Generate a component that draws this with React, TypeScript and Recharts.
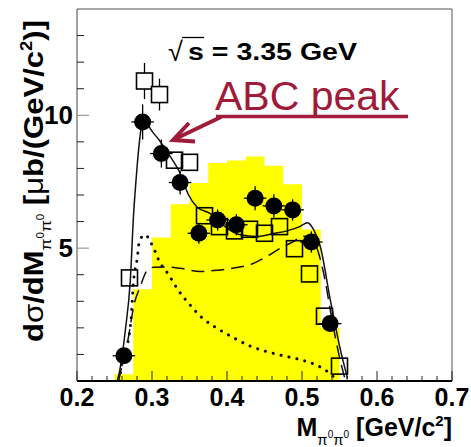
import React from 'react';
import {
  ComposedChart,
  Area,
  Line,
  Scatter,
  XAxis,
  YAxis,
  ErrorBar,
  ReferenceLine
} from 'recharts';

// histogram (yellow), bin low edges and contents
const histEdges = [0.25, 0.275, 0.3, 0.325, 0.35, 0.375, 0.4, 0.425, 0.45, 0.475, 0.5, 0.525, 0.55];
const histHeights = [0.25, 3.45, 5.4, 6.65, 7.45, 8.2, 8.3, 8.45, 8.1, 7.4, 5.7, 2.0, 0];

// filled circles
const dotX = [0.2625, 0.2875, 0.3125, 0.3375, 0.3625, 0.3875, 0.4125, 0.4375, 0.4625, 0.4875, 0.5125, 0.5375];
const dotY = [0.95, 9.75, 8.56, 7.47, 5.56, 6.06, 5.88, 6.88, 6.59, 6.44, 5.23, 2.16];
const dotErr = [0.3, 0.66, 0.53, 0.45, 0.39, 0.4, 0.4, 0.45, 0.44, 0.4, 0.4, 0.3];
const dotBinHalf = 0.015;

// open squares
const sqX = [0.27, 0.29, 0.31, 0.33, 0.35, 0.37, 0.39, 0.41, 0.43, 0.45, 0.47, 0.49, 0.51, 0.53, 0.55];
const sqY = [3.88, 11.29, 10.78, 8.31, 8.23, 6.22, 5.81, 5.65, 5.71, 5.56, 5.81, 4.98, 4.03, 2.44, 0.56];
const sqErr = [0, 0.68, 0.6, 0, 0, 0, 0, 0, 0, 0, 0, 0, 0, 0, 0];

// model curves
const totalX = [0.2535, 0.2555, 0.2644, 0.2711, 0.2755, 0.2787, 0.2821, 0.2871, 0.29, 0.2977, 0.31, 0.322, 0.3377, 0.3488, 0.36, 0.3777, 0.39, 0.4, 0.418, 0.44, 0.462, 0.48, 0.4977, 0.5075, 0.5155, 0.5244, 0.5377, 0.5511, 0.5608];
const totalY = [0, 0.2, 1.9, 3.8, 6.3, 7.55, 8.7, 9.75, 9.9, 9.5, 9.05, 8.55, 7.8, 7.0, 6.55, 6.3, 6.0, 5.75, 5.5, 5.44, 5.55, 5.65, 5.82, 5.96, 5.7, 5.06, 3.06, 1.19, 0.09];

const dashX = [0.2555, 0.2578, 0.2689, 0.2755, 0.2844, 0.2933, 0.3022, 0.32, 0.3377, 0.3644, 0.3867, 0.4088, 0.431, 0.4533, 0.4711, 0.4888, 0.5, 0.51, 0.52, 0.53, 0.54, 0.55, 0.558];
const dashY = [0, 0.3, 1.7, 2.8, 3.56, 4.15, 4.28, 4.29, 4.24, 4.12, 4.17, 4.25, 4.38, 4.69, 5.0, 5.25, 5.45, 5.45, 5.0, 3.9, 2.3, 0.9, 0];

const dottedX = [0.257, 0.2587, 0.2667, 0.272, 0.2755, 0.28, 0.2835, 0.291, 0.2977, 0.303, 0.3089, 0.3222, 0.3342, 0.3502, 0.3667, 0.3857, 0.4067, 0.4288, 0.4511, 0.4733, 0.4968, 0.5088, 0.52, 0.5311, 0.542, 0.548];
const dottedY = [0, 0.5, 1.3, 2.3, 3.8, 4.55, 5.3, 5.5, 5.25, 4.95, 4.55, 4.0, 3.45, 2.88, 2.38, 2.0, 1.66, 1.34, 1.12, 0.96, 0.81, 0.71, 0.59, 0.41, 0.16, 0];

const xTicks = [0.2, 0.22, 0.24, 0.26, 0.28, 0.3, 0.32, 0.34, 0.36, 0.38, 0.4, 0.42, 0.44, 0.46, 0.48, 0.5, 0.52, 0.54, 0.56, 0.58, 0.6, 0.62, 0.64, 0.66, 0.68, 0.7];
const yTicks = [1, 2, 3, 4, 5, 6, 7, 8, 9, 10, 11, 12, 13];

const FONT = '"Liberation Sans", Arial, Helvetica, sans-serif';
const RED = '#A01A3A';

const histData = histEdges.map((x, i) => ({ x, y: histHeights[i] }));
const dots = dotX.map((x, i) => ({ x, y: dotY[i], ey: dotErr[i], ex: dotBinHalf }));
const squares = sqX.map((x, i) => ({ x, y: sqY[i], ey: sqErr[i] }));
const squaresErr = squares.filter(s => s.ey > 0);
const squaresPlain = squares.filter(s => s.ey === 0);
const totalData = totalX.map((x, i) => ({ x, y: totalY[i] }));
const dashData = dashX.map((x, i) => ({ x, y: dashY[i] }));
const dottedData = dottedX.map((x, i) => ({ x, y: dottedY[i] }));

const isMajorX = (v: number) => Math.abs(v * 10 - Math.round(v * 10)) < 1e-6;

const XTick = (props: any) => {
  const { x, y, payload } = props;
  const v = payload.value;
  const major = isMajorX(v);
  return (
    <g>
      <line x1={x} x2={x} y1={y} y2={y - (major ? 10 : 5)} stroke="#222" strokeWidth={1} />
      {major && (
        <text x={x} y={y + 25} textAnchor="middle" fontFamily={FONT} fontWeight="bold" fontSize={25} fill="#000">
          {v.toFixed(1)}
        </text>
      )}
    </g>
  );
};

const YTick = (props: any) => {
  const { x, y, payload } = props;
  const v = payload.value;
  const major = v % 5 === 0;
  return (
    <g>
      <line x1={x} x2={x + (major ? 12 : 7)} y1={y} y2={y} stroke={major ? '#888' : '#222'} strokeWidth={1} />
      {major && (
        <text x={x - 4} y={y + 9} textAnchor="end" fontFamily={FONT} fontWeight="bold" fontSize={26} fill="#000">
          {v}
        </text>
      )}
    </g>
  );
};

const renderDot = (p: any) => <circle cx={p.cx} cy={p.cy} r={8.5} fill="#000" />;
const renderSquare = (fill: string) => (p: any) => (
  <rect x={p.cx - 8} y={p.cy - 8} width={16} height={16} fill={fill} stroke="#000" strokeWidth={1.6} />
);

const Overlay = () => (
  <svg width={471} height={447} style={{ position: 'absolute', left: 0, top: 0, pointerEvents: 'none' }}>
    {/* y axis title */}
    <text
      transform="translate(43,342) rotate(-90)"
      fontFamily={FONT}
      fontWeight="bold"
      fontSize={27}
      fill="#000"
      textLength={322}
      lengthAdjust="spacingAndGlyphs"
    >
      d<tspan fontWeight="normal">σ</tspan>/dM
      <tspan fontSize={15} fontWeight="normal" dy={8}>π</tspan>
      <tspan fontSize={10} fontWeight="normal" dy={-7}>0</tspan>
      <tspan fontSize={15} fontWeight="normal" dy={7}>π</tspan>
      <tspan fontSize={10} fontWeight="normal" dy={-7}>0</tspan>
      <tspan dy={-1}> [</tspan>
      <tspan fontWeight="normal">μ</tspan>b/(GeV/c
      <tspan fontSize={16} dy={-11}>2</tspan>
      <tspan dy={11}>)]</tspan>
    </text>

    {/* x axis title */}
    <text x={452} y={436} textAnchor="end" fontFamily={FONT} fontWeight="bold" fontSize={25} fill="#000">
      M
      <tspan fontSize={15} fontWeight="normal" dy={9}>π</tspan>
      <tspan fontSize={10} fontWeight="normal" dy={-7}>0</tspan>
      <tspan fontSize={15} fontWeight="normal" dy={7}>π</tspan>
      <tspan fontSize={10} fontWeight="normal" dy={-7}>0</tspan>
      <tspan dy={-2}> [GeV/c</tspan>
      <tspan fontSize={15} dy={-10}>2</tspan>
      <tspan dy={10}>]</tspan>
    </text>

    {/* sqrt(s) label */}
    <text x={168} y={61} fontFamily={FONT} fontSize={27} fill="#000">√</text>
    <line x1={182} x2={204} y1={37.5} y2={37.5} stroke="#000" strokeWidth={1.3} />
    <text
      x={188}
      y={60}
      fontFamily={FONT}
      fontWeight="bold"
      fontSize={23}
      fill="#000"
      textLength={169}
      lengthAdjust="spacingAndGlyphs"
    >
      s = 3.35 GeV
    </text>

    {/* ABC peak annotation */}
    <text x={215} y={110} fontFamily={FONT} fontSize={41} fill={RED}>ABC peak</text>
    <line x1={216} x2={408} y1={116.5} y2={116.5} stroke={RED} strokeWidth={3.5} />
    <line x1={221} y1={117} x2={175} y2={139} stroke={RED} strokeWidth={4} />
    <polyline
      points="189,123 173,140 195,141.5"
      fill="none"
      stroke={RED}
      strokeWidth={4}
      strokeLinejoin="miter"
    />
  </svg>
);

export default function App() {
  return (
    <div style={{ position: 'absolute', left: 0, top: 0, width: 471, height: 447, background: '#fff' }}>
      <ComposedChart width={471} height={447} margin={{ top: 9, right: 19, left: 0, bottom: 0 }}>
        <Area
          data={histData}
          type="stepAfter"
          dataKey="y"
          stroke="none"
          fill="#ffff00"
          fillOpacity={1}
          baseValue={0}
          dot={false}
          activeDot={false}
          isAnimationActive={false}
        />
        <Line data={dottedData} type="monotone" dataKey="y" stroke="#111" strokeWidth={3}
          strokeDasharray="0.1 8" strokeLinecap="round" dot={false} activeDot={false} isAnimationActive={false} />
        <Line data={dashData} type="monotone" dataKey="y" stroke="#111" strokeWidth={1.5}
          strokeDasharray="13 7" dot={false} activeDot={false} isAnimationActive={false} />
        <Line data={totalData} type="monotone" dataKey="y" stroke="#111" strokeWidth={1.5}
          dot={false} activeDot={false} isAnimationActive={false} />
        <Scatter data={squaresPlain} shape={renderSquare('none')} isAnimationActive={false} />
        <Scatter data={squaresErr} shape={renderSquare('#fff')} isAnimationActive={false}>
          <ErrorBar dataKey="ey" direction="y" width={0} stroke="#000" strokeWidth={1.3} />
        </Scatter>
        <Scatter data={dots} shape={renderDot} isAnimationActive={false}>
          <ErrorBar dataKey="ey" direction="y" width={0} stroke="#000" strokeWidth={1.3} />
          <ErrorBar dataKey="ex" direction="x" width={0} stroke="#000" strokeWidth={1.3} />
        </Scatter>
        <ReferenceLine y={14} stroke="#555" strokeWidth={1} />
        <ReferenceLine x={0.7} stroke="#555" strokeWidth={1} />
        <XAxis
          type="number"
          dataKey="x"
          domain={[0.2, 0.7]}
          ticks={xTicks}
          interval={0}
          tick={<XTick />}
          tickLine={false}
          tickSize={0}
          tickMargin={0}
          axisLine={{ stroke: '#000', strokeWidth: 2 }}
          height={66}
          allowDataOverflow
        />
        <YAxis
          type="number"
          dataKey="y"
          domain={[0, 14]}
          ticks={yTicks}
          interval={0}
          tick={<YTick />}
          tickLine={false}
          tickSize={0}
          tickMargin={0}
          axisLine={{ stroke: '#444', strokeWidth: 1 }}
          width={77}
          allowDataOverflow
        />
      </ComposedChart>
      <Overlay />
    </div>
  );
}
